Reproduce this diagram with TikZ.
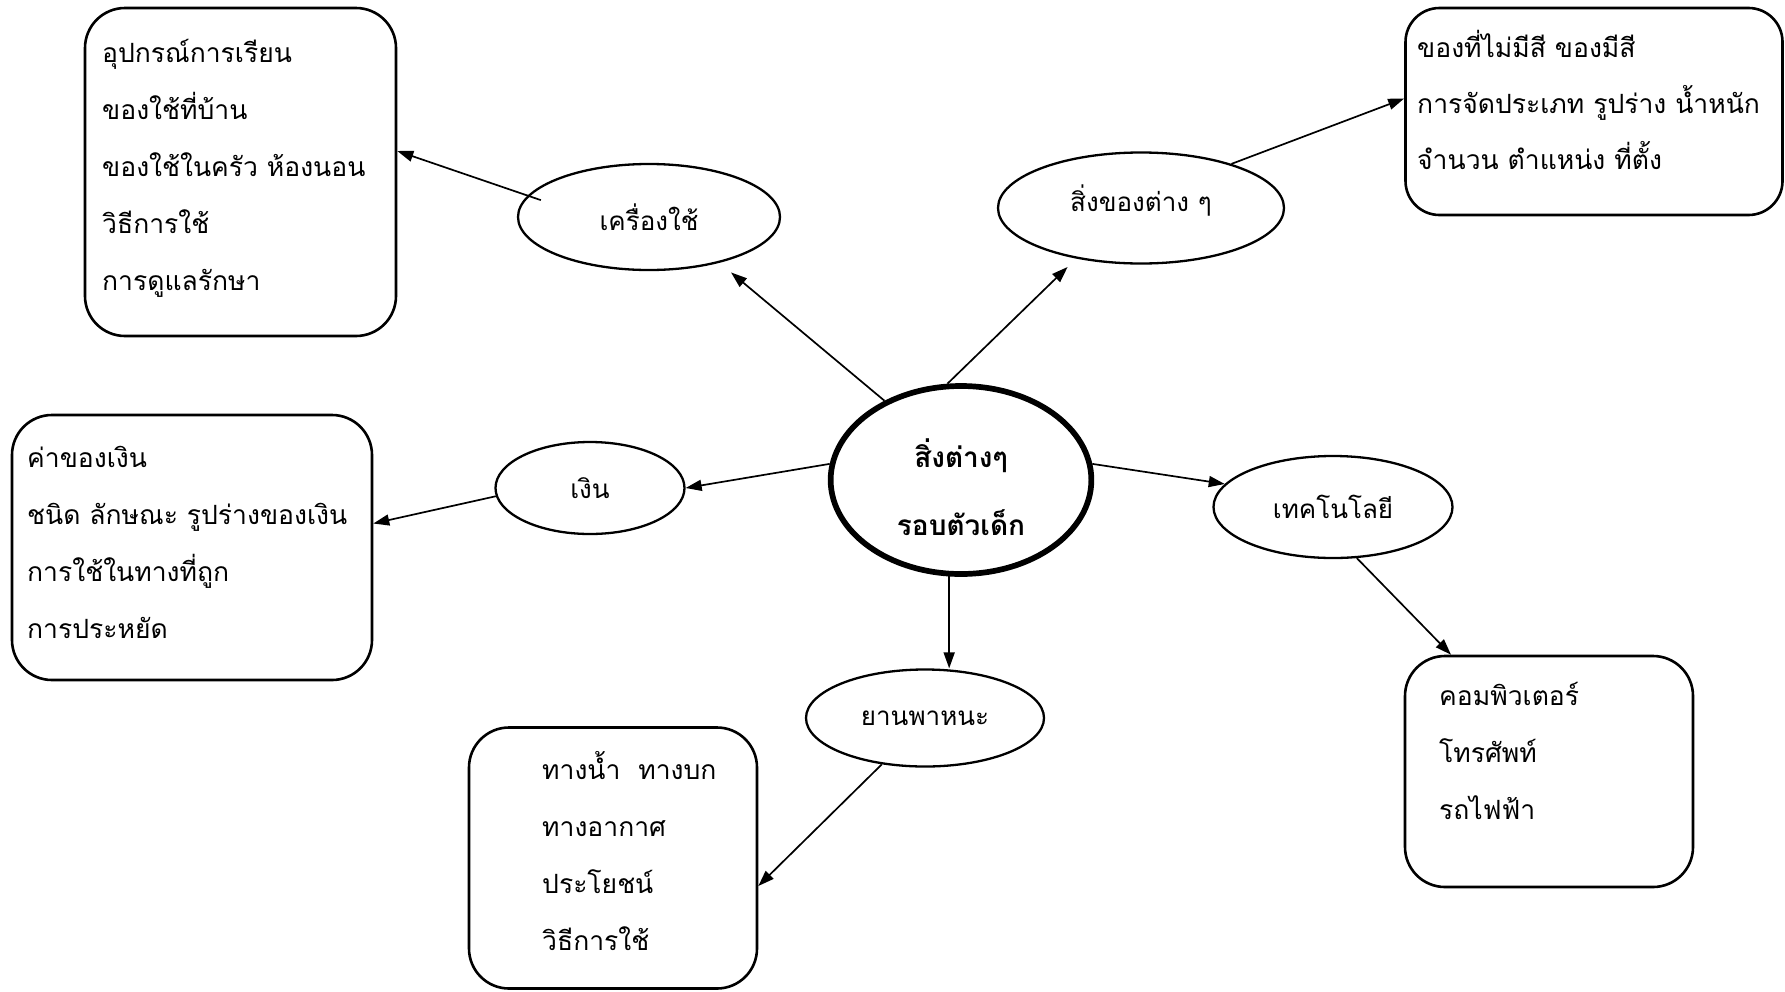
\documentclass[tikz,border=0pt]{standalone}
\usepackage{fontspec}
\newfontfamily\thaifont[Script=Thai]{Loma}
\usetikzlibrary{shapes.geometric,arrows.meta,calc}
\begin{document}
\begin{tikzpicture}[x=1pt,y=-1pt,
  box/.style={draw, line width=2.6pt, rounded corners=40pt, inner sep=0pt},
  oval/.style={draw, ellipse, line width=2.3pt, inner sep=0pt, font=\thaifont\fontsize{26}{30}\selectfont},
  txt/.style={anchor=base west, align=left, inner sep=0pt, font=\thaifont\fontsize{26.5}{57.2}\selectfont},
  arr/.style={line width=1.7pt, -{Triangle[length=16pt,width=11pt]}}]
\useasboundingbox (0,0) rectangle (1785,991);
% boxes
\node[box, minimum width=311pt, minimum height=328pt] (box1) at (240.5,172) {};
\node[box, rounded corners=34pt, minimum width=377pt, minimum height=207pt] (box2) at (1594,111.5) {};
\node[box, minimum width=360pt, minimum height=265pt] (box3) at (192,547.5) {};
\node[box, minimum width=288pt, minimum height=261pt] (box4) at (613,858) {};
\node[box, minimum width=288pt, minimum height=231pt] (box5) at (1549,771.5) {};
% box texts (anchor at the baseline of the last line)
\node[txt] (t1) at (102,290.8) {อุปกรณ์การเรียน\\ของใช้ที่บ้าน\\ของใช้ในครัว ห้องนอน\\วิธีการใช้\\การดูแลรักษา};
\node[txt, font=\thaifont\fontsize{26.5}{56.4}\selectfont] (t2) at (1417,169.8) {ของที่ไม่มีสี ของมีสี\\การจัดประเภท รูปร่าง น้ำหนัก\\จำนวน ตำแหน่ง ที่ตั้ง};
\node[txt] (t3) at (27,638.6) {ค่าของเงิน\\ชนิด ลักษณะ รูปร่างของเงิน\\การใช้ในทางที่ถูก\\การประหยัด};
\node[txt] (t4) at (542,950.6) {ทางน้ำ~ ทางบก\\ทางอากาศ\\ประโยชน์\\วิธีการใช้};
\node[txt] (t5) at (1439,819.4) {คอมพิวเตอร์\\โทรศัพท์\\รถไฟฟ้า};
% ovals
\node[draw, ellipse, line width=5.7pt, minimum width=260.7pt, minimum height=188pt, inner sep=0pt,
  label={[align=center, yshift=-7pt, font=\thaifont\bfseries\fontsize{28}{68}\selectfont]center:สิ่งต่างๆ\\รอบตัวเด็ก}] (c) at (961,480) {};
\node[oval, minimum width=262pt, minimum height=106pt] (ktool) at (649,217) {เครื่องใช้};
\node[oval, minimum width=286pt, minimum height=111pt,
  label={[yshift=7pt, font=\thaifont\fontsize{26}{30}\selectfont]center:สิ่งของต่าง ๆ}] (things) at (1141,208) {};
\node[oval, minimum width=189pt, minimum height=92pt] (money) at (590,488) {เงิน};
\node[oval, minimum width=239pt, minimum height=102pt] (tech) at (1333,507) {เทคโนโลยี};
\node[oval, minimum width=238pt, minimum height=97pt] (veh) at (925,718) {ยานพาหนะ};
% connectors
\draw[arr, shorten >=15pt] (c.134) -- (ktool.-33);
\draw[arr, shorten <=-14pt] (ktool.170) -- ($(box1.east)+(0,-21)$);
\draw[arr, shorten >=12pt] (c.98) -- (things.218);
\draw[arr] (things.26) -- ($(box2.west)+(0,-13)$);
\draw[arr] (c.173) -- (money.east);
\draw[arr] (money.185) -- ($(box3.east)+(0,-24)$);
\draw[arr] (c.7) -- (tech.168);
\draw[arr] (tech.-65) -- ($(box5.north)+(-98,0)$);
\draw[arr] (c.263) -- (c.263 |- veh.north);
\draw[arr] (veh.227) -- ($(box4.east)+(0,28)$);
\end{tikzpicture}
\end{document}
